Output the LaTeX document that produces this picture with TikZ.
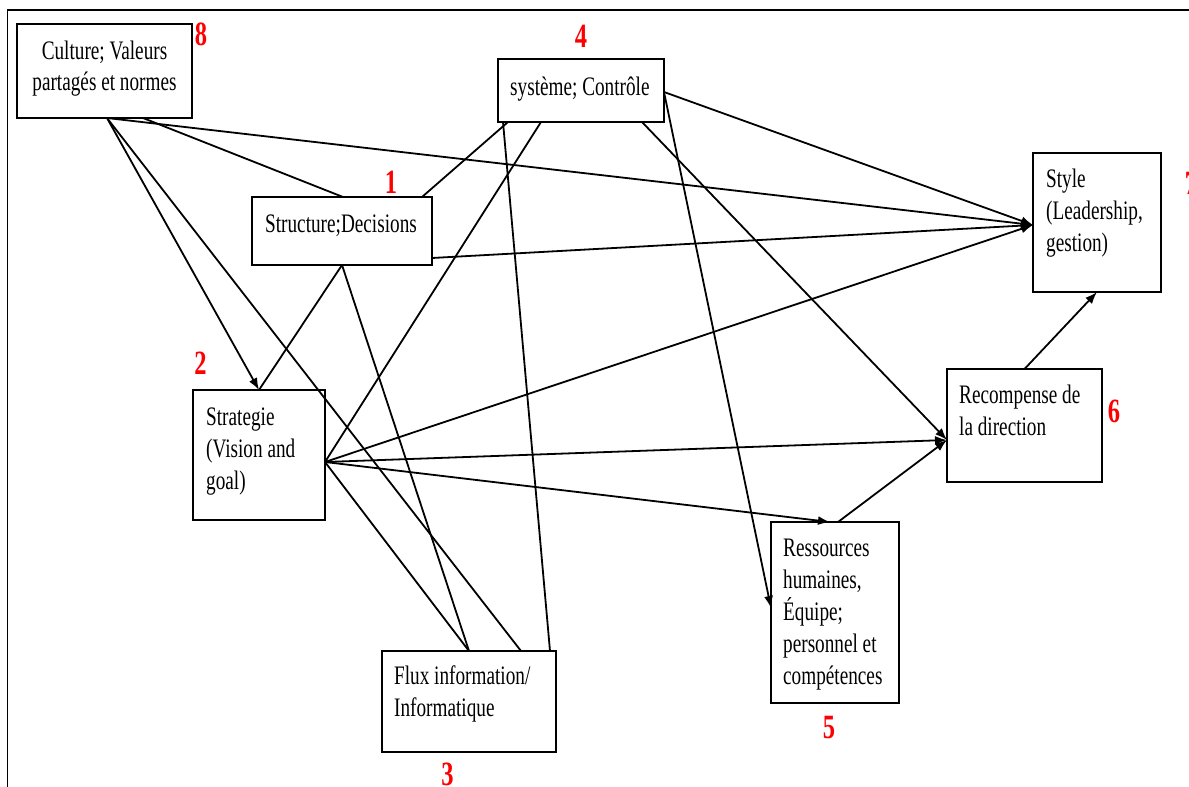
\documentclass[tikz,border=0pt]{standalone}
\usepackage{fontspec}
\setmainfont{Liberation Serif}[FakeStretch=0.72]
\usetikzlibrary{arrows.meta}
% stacked lines with a fixed line pitch; the baseline is that of the first line
\newcommand\leftlines[1]{\vtop{\baselineskip=32pt\lineskiplimit=-100pt\halign{##\hfil\cr#1\crcr}}}
\newcommand\centerlines[1]{\vtop{\baselineskip=32pt\lineskiplimit=-100pt\halign{\hfil##\hfil\cr#1\crcr}}}
\begin{document}
\begin{tikzpicture}[x=1pt,y=-1pt,
  box/.style={draw, line width=2pt, rectangle, inner sep=0pt, outer sep=0pt},
  txt/.style={inner sep=0pt, font=\fontsize{26.7}{32}\selectfont, anchor=base west},
  num/.style={inner sep=0pt, text=red, font=\fontsize{34}{34}\selectfont\bfseries, anchor=base},
  link/.style={line width=1.8pt},
  arr/.style={link, -{Latex[length=12pt,width=9pt]}}]
\useasboundingbox (0,0) rectangle (1189,787);

% outer frame
\draw[line width=1.5pt] (7.5,787) -- (7.5,10) -- (1189,10);

% boxes
\node[box, minimum width=175, minimum height=94]  (culture)    at (104.5,71)   {};
\node[box, minimum width=180, minimum height=68]  (structure)  at (342,231)    {};
\node[box, minimum width=166, minimum height=63]  (systeme)    at (581,90.5)   {};
\node[box, minimum width=128, minimum height=139] (style)      at (1097,222.5) {};
\node[box, minimum width=155, minimum height=113] (recompense) at (1024.5,425.5) {};
\node[box, minimum width=128, minimum height=181] (ressources) at (835,612.5)  {};
\node[box, minimum width=132, minimum height=130] (strategie)  at (259,455)    {};
\node[box, minimum width=174, minimum height=101] (flux)       at (469,701.5)  {};

% box texts
\node[txt, anchor=base] (culture-t) at (104.5,59) {\centerlines{Culture; Valeurs\cr partagés et normes}};
\node[txt] (structure-t)  at (265,232)  {Structure;Decisions};
\node[txt] (systeme-t)    at (510,95)   {système; Contrôle};
\node[txt] (style-t)      at (1046,187) {\leftlines{Style\cr (Leadership,\cr gestion)}};
\node[txt] (recompense-t) at (959,403)  {\leftlines{Recompense de\cr la direction}};
\node[txt] (strategie-t)  at (206,425)  {\leftlines{Strategie\cr (Vision and\cr goal)}};
\node[txt] (ressources-t) at (783,556)  {\leftlines{Ressources\cr humaines,\cr Équipe;\cr personnel et\cr compétences}};
\node[txt] (flux-t)       at (394,684)  {\leftlines{Flux information/\cr Informatique}};

% red numbers
\node[num] (n8) at (201,45)    {8};
\node[num] (n4) at (581,47)    {4};
\node[num] (n1) at (391,193)   {1};
\node[num] (n7) at (1191,194)  {7};
\node[num] (n2) at (200.5,374) {2};
\node[num] (n6) at (1114,422)  {6};
\node[num] (n5) at (829,738)   {5};
\node[num] (n3) at (447.5,785) {3};

% links from Culture
\draw[arr]  ([xshift=90pt]culture.south west) -- (strategie.north);
\draw[link] ([xshift=90pt]culture.south west) -- ([xshift=139pt]flux.north west);
\draw[arr]  ([xshift=90pt]culture.south west) -- ([yshift=-2.5pt]style.west);
\draw[link] ([xshift=126pt]culture.south west) -- ([xshift=91pt]structure.north west);

% links from Structure
\draw[link] ([xshift=170pt]structure.north west) -- ([xshift=10pt]systeme.south west);
\draw[arr]  ([yshift=7pt]structure.south east) -- ([yshift=-2.5pt]style.west);
\draw[link] (structure.south) -- (strategie.north);
\draw[link] (structure.south) -- (flux.north);

% links from Systeme
\draw[link] ([xshift=43pt]systeme.south west) -- ([yshift=-7pt]strategie.east);
\draw[link] ([xshift=5pt]systeme.south west) -- ([xshift=168pt]flux.north west);
\draw[arr]  ([xshift=144pt]systeme.south west) -- ([yshift=-14.5pt]recompense.west);
\draw[arr]  ([yshift=-1.5pt]systeme.east) -- ([yshift=4.5pt]ressources.west);
\draw[arr]  ([yshift=-1.5pt]systeme.east) -- ([yshift=-2.5pt]style.west);

% links from Strategie
\draw[arr]  ([yshift=-7pt]strategie.east) -- ([yshift=-2.5pt]style.west);
\draw[arr]  ([yshift=-7pt]strategie.east) -- ([yshift=-14.5pt]recompense.west);
\draw[arr]  ([yshift=-7pt]strategie.east) -- ([xshift=59pt]ressources.north west);
\draw[link] ([yshift=-7pt]strategie.east) -- (flux.north);

% links towards Recompense and Style
\draw[arr]  ([xshift=67pt]ressources.north west) -- ([yshift=-14.5pt]recompense.west);
\draw[arr]  (recompense.north) -- (style.south);
\end{tikzpicture}
\end{document}
